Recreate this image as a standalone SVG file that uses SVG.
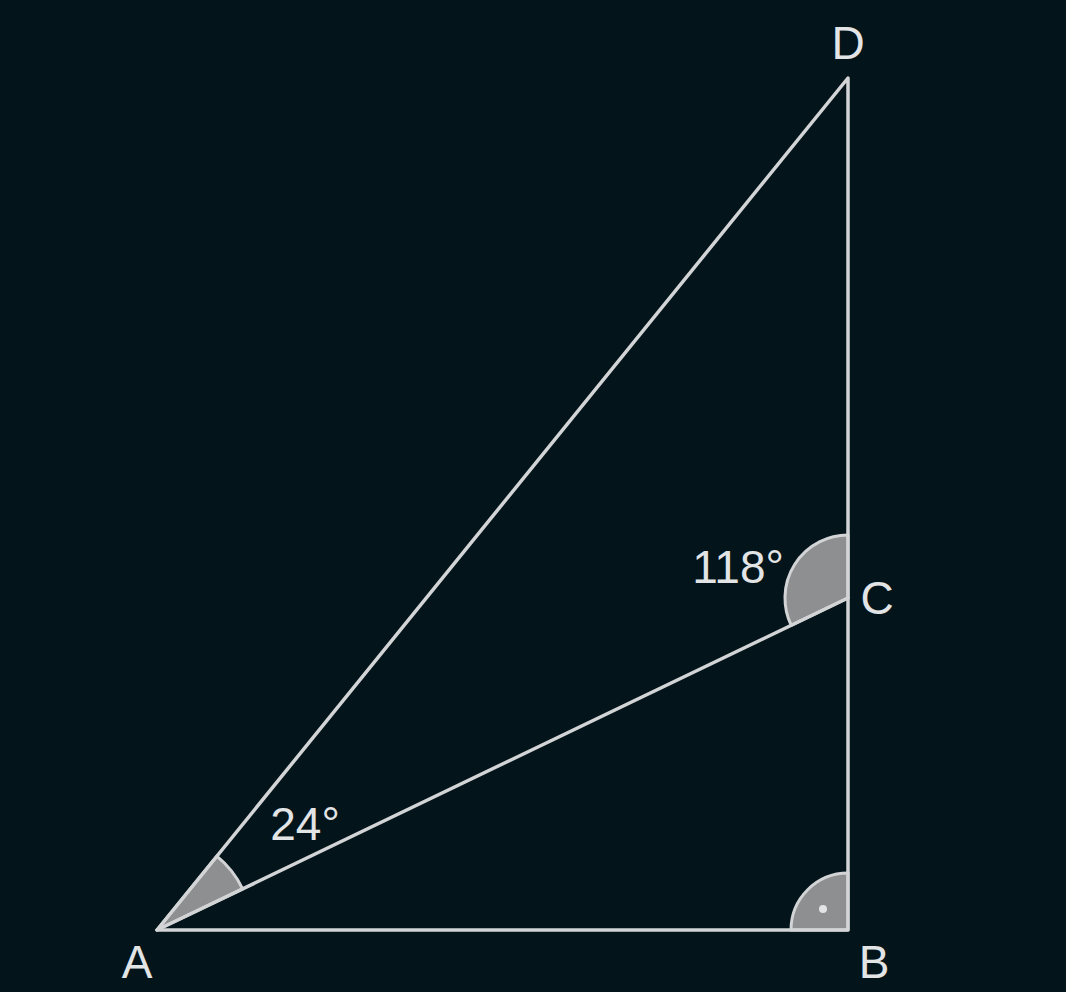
<svg xmlns="http://www.w3.org/2000/svg" width="1066" height="992" viewBox="0 0 1066 992">
<style>
.wedge{fill:#8d8f91;stroke:#d2d4d6;stroke-width:3;stroke-linejoin:round}
.edge{stroke:#d2d4d6;stroke-width:3.5;fill:none;stroke-linecap:round;stroke-linejoin:round}
.lbl{font-family:"Liberation Sans",Arial,sans-serif;font-size:46px;fill:#e2e4e6}
</style>
<rect width="1066" height="992" fill="#03141a"/>
<g id="angles">
<path class="wedge" d="M157,930 L242.6,888.9 A95,95 0 0 0 216.8,856.2 Z"/>
<path class="wedge" d="M848,598 L848,535 A63,63 0 0 0 791.2,625.3 Z"/>
<path class="wedge" d="M848,930 L848,873 A57,57 0 0 0 791,930 Z"/>
<circle cx="823" cy="909" r="4" fill="#e2e4e6"/>
</g>
<g id="connectors">
<path class="edge" d="M157,930 L848,930 L848,78 Z"/>
<line class="edge" x1="157" y1="930" x2="848" y2="598"/>
</g>
<g id="A"><text class="lbl" x="137" y="978" text-anchor="middle">A</text></g>
<g id="B"><text class="lbl" x="874" y="978" text-anchor="middle">B</text></g>
<g id="C"><text class="lbl" x="877" y="614" text-anchor="middle">C</text></g>
<g id="D"><text class="lbl" x="848" y="59" text-anchor="middle">D</text></g>
<g id="angleC"><text class="lbl" x="738" y="583" text-anchor="middle">118°</text></g>
<g id="angleA"><text class="lbl" x="305" y="840" text-anchor="middle">24°</text></g>
</svg>
